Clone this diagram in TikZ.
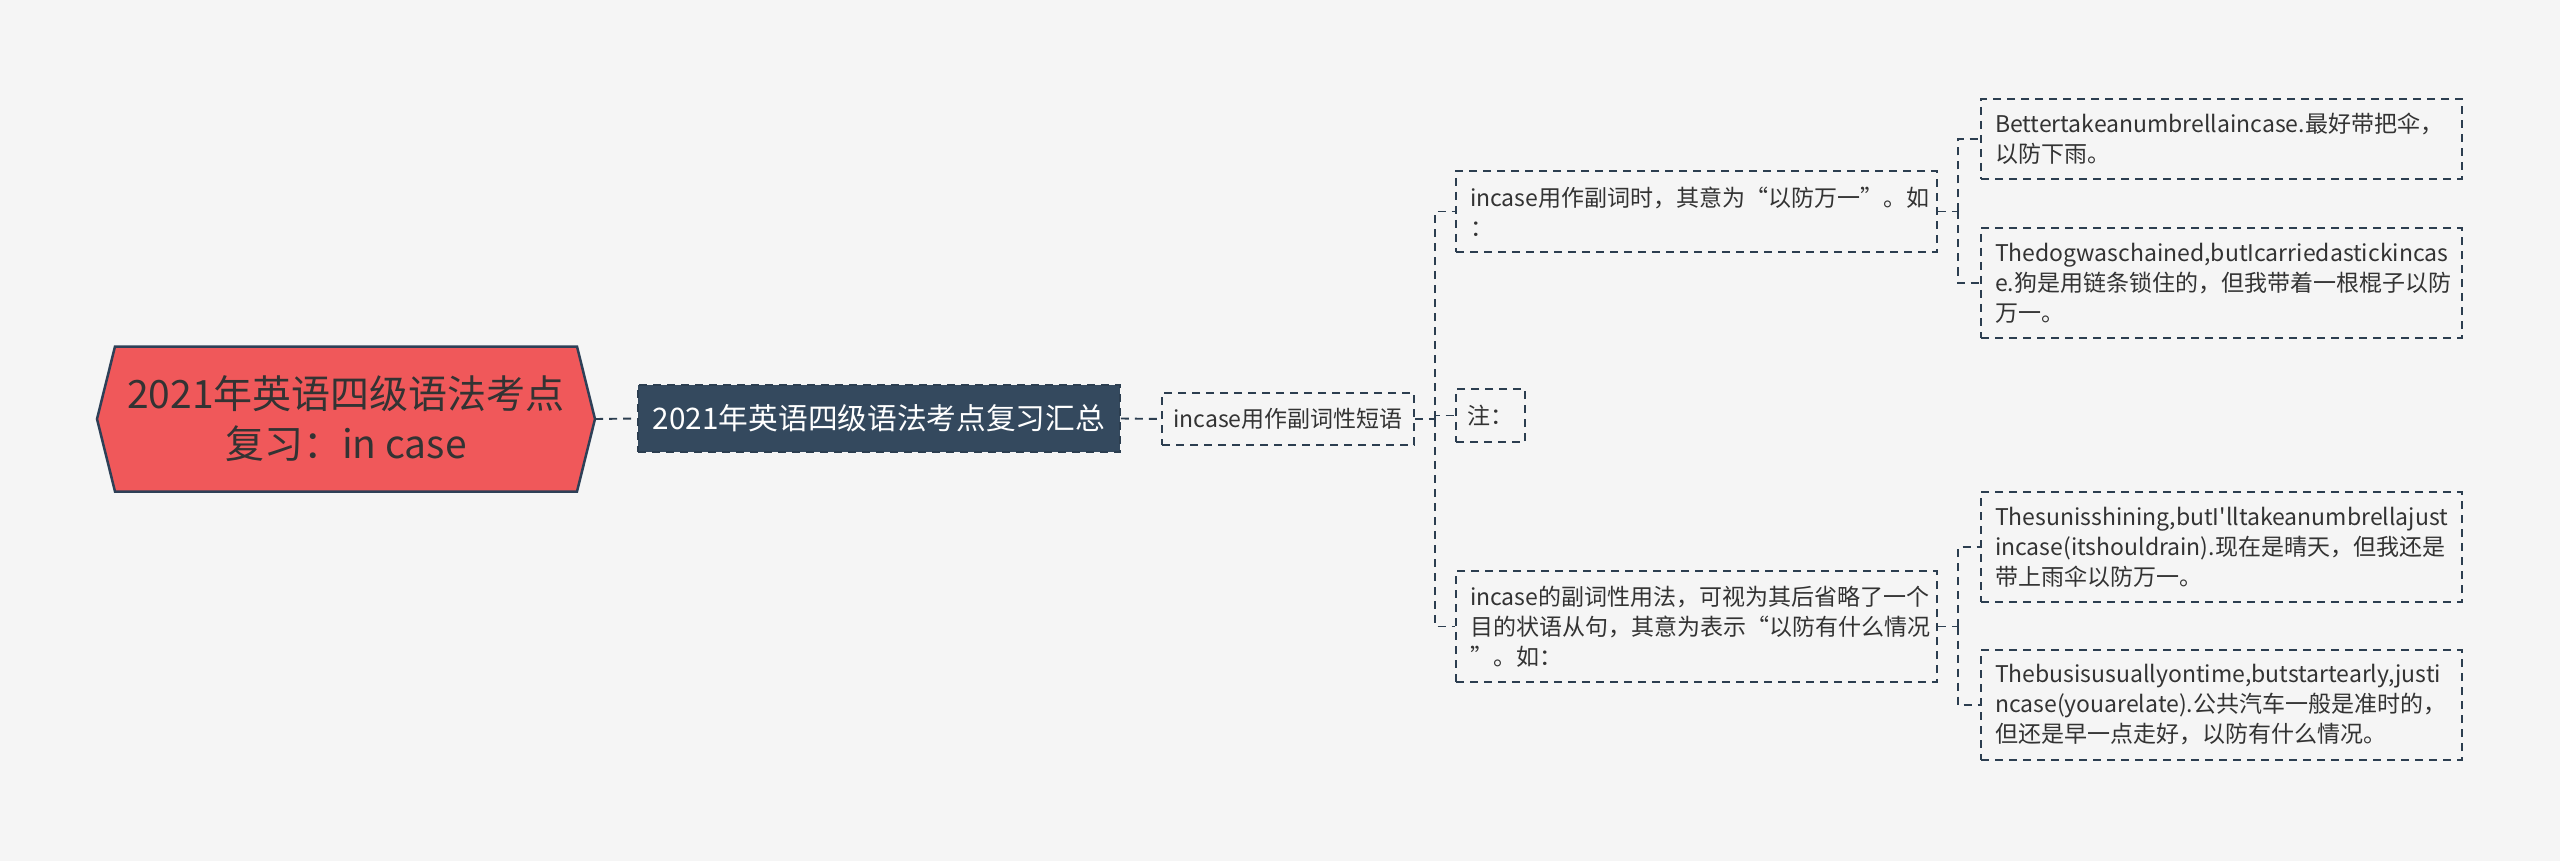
\documentclass[tikz,border=0pt]{standalone}
\usepackage{fontspec}
\setmainfont{Noto Sans CJK SC}
\newfontfamily\plainfont{Noto Sans CJK SC}
\definecolor{bgC}{HTML}{F5F5F5}
\definecolor{rootC}{HTML}{F0585A}
\definecolor{rootB}{HTML}{2E4057}
\definecolor{sumC}{HTML}{34495E}
\definecolor{lineC}{HTML}{2C3E50}
\definecolor{textC}{HTML}{333333}
\begin{document}
\begin{tikzpicture}[x=1pt,y=-1pt,
  dsh/.style={line width=1.9pt, dash pattern=on 8pt off 6pt},
  box/.style={draw=lineC, dsh, inner sep=0pt, align=left, text=textC,
    font=\fontsize{23}{30}\selectfont},
  wide/.style={box, minimum width=481pt, text width=453pt},
  conn/.style={draw=lineC, dsh}]
\fill[bgC] (0,0) rectangle (2560,861);
\useasboundingbox (0,0) rectangle (2560,861);
% root hexagon
\filldraw[fill=rootC, draw=rootB, line width=2.5pt]
  (97,419) -- (115,346.5) -- (577,346.5) -- (595,419) -- (577,491.5) -- (115,491.5) -- cycle;
\node[minimum width=498pt, minimum height=145pt, inner sep=0pt, align=center,
  text=textC, font=\fontsize{39}{50}\selectfont] (root) at (346,419)
  {2021年英语四级语法考点\\复习：in case};
\node[fill=sumC, draw=lineC, dsh, minimum width=482pt, minimum height=67pt, inner sep=0pt,
  text=white, font=\fontsize{29.7}{34}\selectfont] (sum) at (879,418.5)
  {2021年英语四级语法考点复习汇总};
\node[box, minimum width=252pt, minimum height=52pt] (phrase) at (1288,419)
  {incase用作副词性短语};
\node[box, minimum width=69pt, minimum height=53pt] (zhu) at (1490.5,415.5) {注：};
\node[wide, minimum height=81pt] (c1) at (1696.5,211.5)
  {incase用作副词时，其意为“以防万一”。如\\：};
\node[wide, minimum height=111pt] (c3) at (1696.5,626.5)
  {incase的副词性用法，可视为其后省略了一个\\目的状语从句，其意为表示“以防有什么情况\\”。如：};
\node[wide, minimum height=80pt] (l1) at (2221.5,139)
  {Bettertakeanumbrellaincase.最好带把伞，\\以防下雨。};
\node[wide, minimum height=110pt] (l2) at (2221.5,283)
  {Thedogwaschained,butIcarriedastickincas\\e.狗是用链条锁住的，但我带着一根棍子以防\\万一。};
\node[wide, minimum height=110pt] (l3) at (2221.5,547)
  {Thesunisshining,butI{\plainfont '}lltakeanumbrellajust\\incase(itshouldrain).现在是晴天，但我还是\\带上雨伞以防万一。};
\node[wide, minimum height=110pt] (l4) at (2221.5,705)
  {Thebusisusuallyontime,butstartearly,justi\\ncase(youarelate).公共汽车一般是准时的，\\但还是早一点走好，以防有什么情况。};
% connectors
\coordinate (s1) at (1435,419);
\coordinate (s2) at (1958,211.5);
\coordinate (s3) at (1958,626.5);
\draw[conn] (root.east) -- (sum.west);
\draw[conn] (sum.east) -- (phrase.west);
\draw[conn] (phrase.east) -- (s1);
\draw[conn] (s1) |- (c1.west);
\draw[conn] (s1) |- (c3.west);
\draw[conn] (s1) |- (zhu.west);
\draw[conn] (c1.east) -- (s2);
\draw[conn] (s2) |- (l1.west);
\draw[conn] (s2) |- (l2.west);
\draw[conn] (c3.east) -- (s3);
\draw[conn] (s3) |- (l3.west);
\draw[conn] (s3) |- (l4.west);
\end{tikzpicture}
\end{document}
